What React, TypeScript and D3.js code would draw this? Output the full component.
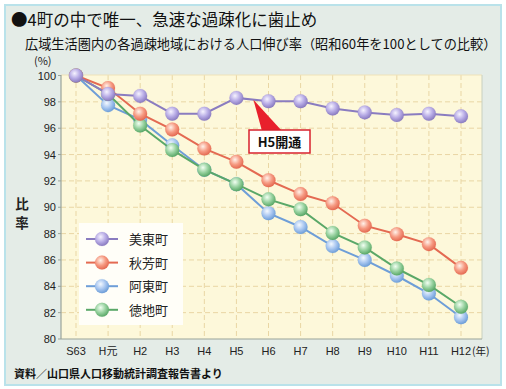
import * as d3 from 'd3';
import React from 'react';

// x categories (years)
const years = ['S63', 'H元', 'H2', 'H3', 'H4', 'H5', 'H6', 'H7', 'H8', 'H9', 'H10', 'H11', 'H12'];
const yTicks = [80, 82, 84, 86, 88, 90, 92, 94, 96, 98, 100];

const mitoValues = [100, 98.6, 98.45, 97.1, 97.1, 98.3, 98.05, 98.05, 97.5, 97.2, 97.0, 97.1, 96.9];
const shuhoValues = [100, 99.05, 97.1, 95.9, 94.45, 93.45, 92.05, 91.0, 90.3, 88.6, 87.95, 87.2, 85.4];
const atoValues = [100, 97.75, 96.65, 94.7, 92.85, 91.75, 89.55, 88.5, 87.05, 86.0, 84.8, 83.45, 81.65];
const tokuji = [100, 98.6, 96.2, 94.35, 92.85, 91.75, 90.6, 89.85, 88.05, 86.95, 85.35, 84.1, 82.45];

const series = [
  { name: '美東町', values: mitoValues, line: '#8a7cc0', fill: '#b8ace6', light: '#f6f3ff' },
  { name: '秋芳町', values: shuhoValues, line: '#e46a52', fill: '#f69a82', light: '#fff2ea' },
  { name: '阿東町', values: atoValues, line: '#6e9ed8', fill: '#a8c6f0', light: '#f4f9ff' },
  { name: '徳地町', values: tokuji, line: '#5aa868', fill: '#98d2a0', light: '#f2fff2' },
];

const W = 506;
const H = 389;
const plot = { left: 61, right: 482, top: 75, bottom: 339 };

const jp = '"Noto Sans CJK JP", "Noto Sans", sans-serif';
const num = '"Liberation Sans", Arial, sans-serif';

export default function App() {
  const x = d3.scalePoint<string>().domain(years).range([76, 461]);
  const y = d3.scaleLinear().domain([80, 100]).range([plot.bottom, plot.top + 0.5]);

  const line = d3.line<number>()
    .x((d, i) => x(years[i]) as number)
    .y(d => y(d));

  // drawing order: blue, green, orange, purple on top
  const order = [2, 3, 1, 0];

  const Marker = ({ cx, cy, s, id }: any) => (
    <circle cx={cx} cy={cy} r={7} fill={`url(#grad${id})`} stroke={s.line} strokeOpacity={0.25} strokeWidth={0.6} />
  );

  // callout box and its pointer
  const box = { x: 249, y: 130, w: 61, h: 23 };
  const tipX = (x('H5') as number) + 17;
  const tipY = y(98.15);

  return (
    <div style={{ position: 'absolute', left: 0, top: 0 }}>
      <svg width={W} height={H} style={{ display: 'block' }}>
        <defs>
          {series.map((s, i) => (
            <radialGradient key={i} id={`grad${i}`} cx="0.4" cy="0.35" r="0.65">
              <stop offset="0" stopColor={s.light} />
              <stop offset="0.55" stopColor={s.fill} />
              <stop offset="1" stopColor={s.line} />
            </radialGradient>
          ))}
        </defs>
        <rect x={0} y={0} width={W} height={H} fill="#ffffff" />
        <rect x={5} y={5} width={W - 10} height={H - 9} fill="#e4ece7" stroke="#b9e2ea" strokeWidth={2} />

        <text x={11} y={26} fontFamily={jp} fontSize={16.5} fill="#111">●4町の中で唯一、急速な過疎化に歯止め</text>
        <text x={25} y={49} fontFamily={jp} fontSize={13.2} fill="#111">広域生活圏内の各過疎地域における人口伸び率（昭和60年を100としての比較）</text>

        <rect x={plot.left} y={plot.top} width={plot.right - plot.left} height={plot.bottom - plot.top} fill="#fdf8da" />
        {/* grid */}
        {yTicks.filter(t => t > 80 && t < 100).map(t => (
          <line key={t} x1={plot.left} x2={plot.right} y1={y(t)} y2={y(t)} stroke="#e9d6a4" strokeWidth={1} strokeDasharray="5,3" />
        ))}
        {years.map(yr => (
          <line key={yr} x1={x(yr)} x2={x(yr)} y1={plot.top} y2={plot.bottom} stroke="#e9d6a4" strokeWidth={1} strokeDasharray="5,3" />
        ))}
        <line x1={plot.left} x2={plot.right} y1={plot.top} y2={plot.top} stroke="#efe2b8" strokeWidth={1} />
        <line x1={plot.right} x2={plot.right} y1={plot.top} y2={plot.bottom} stroke="#c8d0c0" strokeWidth={1} />
        <line x1={plot.left} x2={plot.left} y1={plot.top} y2={plot.bottom} stroke="#9aa49a" strokeWidth={1.2} />
        <line x1={plot.left} x2={plot.right} y1={plot.bottom} y2={plot.bottom} stroke="#9aa49a" strokeWidth={1.2} />
        {yTicks.map(t => (
          <line key={t} x1={plot.left - 3} x2={plot.left} y1={y(t)} y2={y(t)} stroke="#9aa49a" />
        ))}

        {/* axis labels */}
        {yTicks.map(t => (
          <text key={t} x={56} y={y(t) + 4} textAnchor="end" fontFamily={num} fontSize={11} fill="#222">{t}</text>
        ))}
        <text x={34} y={65} fontFamily={jp} fontSize={11} fill="#222">(%)</text>
        {years.map(yr => (
          <text key={yr} x={x(yr)} y={355} textAnchor="middle" fontFamily={yr === 'H元' ? jp : num} fontSize={11} fill="#222">{yr}</text>
        ))}
        <text x={472} y={355} fontFamily={jp} fontSize={10.5} fill="#222">(年)</text>
        <text x={22} y={209} textAnchor="middle" fontFamily={jp} fontSize={13.5} fontWeight="bold" fill="#222">比</text>
        <text x={22} y={228} textAnchor="middle" fontFamily={jp} fontSize={13.5} fontWeight="bold" fill="#222">率</text>

        {/* legend */}
        <rect x={79} y={223} width={104} height={102} fill="#fffef8" />
        {series.map((s, i) => {
          const ly = 239 + i * 23.6;
          return (
            <g key={s.name}>
              <line x1={86} x2={118} y1={ly} y2={ly} stroke={s.line} strokeWidth={2} />
              <Marker cx={102} cy={ly} s={s} id={i} />
              <text x={129} y={ly + 5} fontFamily={jp} fontSize={13} fill="#222">{s.name}</text>
            </g>
          );
        })}

        {/* series */}
        {order.map(i => {
          const s = series[i];
          return (
            <g key={s.name}>
              <path d={line(s.values) as string} fill="none" stroke={s.line} strokeWidth={2} />
              {s.values.map((v, j) => (
                <Marker key={j} cx={x(years[j])} cy={y(v)} s={s} id={i} />
              ))}
            </g>
          );
        })}

        {/* callout */}
        <path d={`M${tipX},${tipY} L${box.x + 13},${box.y + 1} L${box.x + 33},${box.y + 1} Z`} fill="#e8202c" />
        <rect x={box.x} y={box.y} width={box.w} height={box.h} fill="#ffffff" stroke="#d8202c" strokeWidth={1.5} />
        <text x={box.x + box.w / 2} y={box.y + 16.5} textAnchor="middle" fontFamily={jp} fontSize={13} fontWeight="bold" fill="#111">H5開通</text>

        <text x={14} y={378} fontFamily={jp} fontSize={11} fontWeight="bold" fill="#111">資料／山口県人口移動統計調査報告書より</text>
      </svg>
    </div>
  );
}
